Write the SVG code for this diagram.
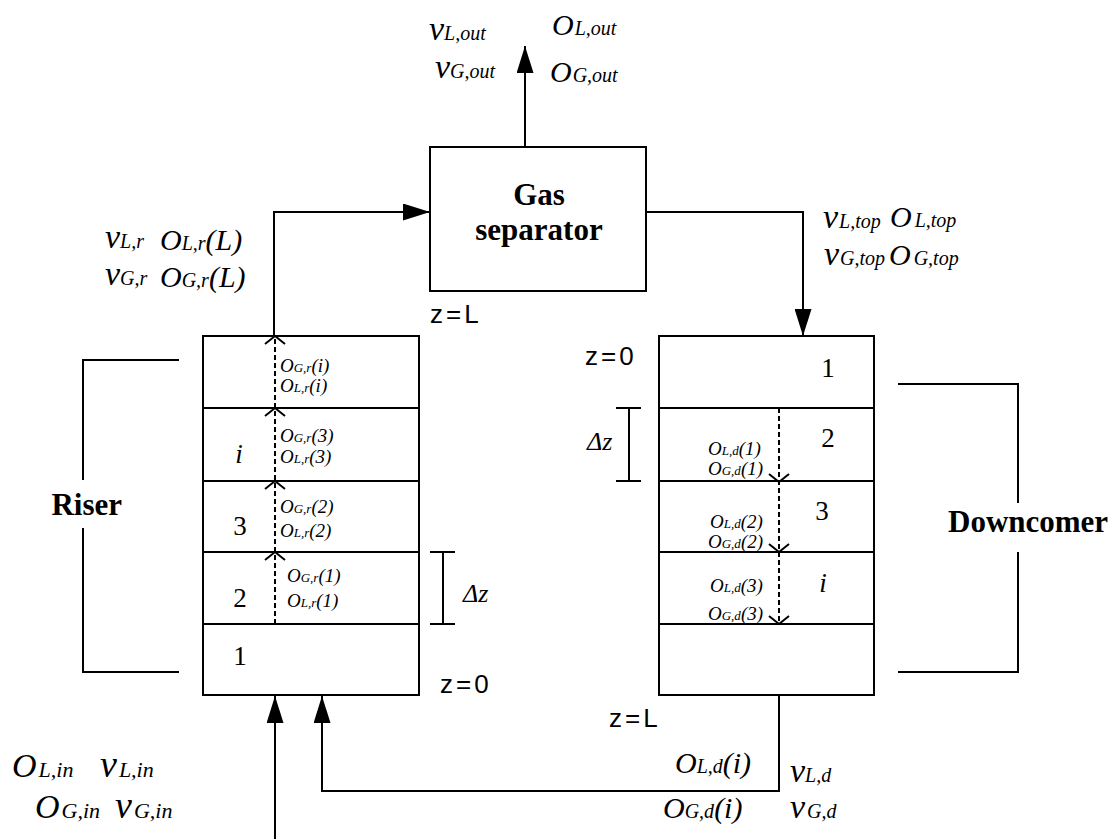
<svg xmlns="http://www.w3.org/2000/svg" width="1120" height="839" viewBox="0 0 1120 839">
<style>
.ln{stroke:#000;stroke-width:2;fill:none}
.box{fill:#fff;stroke:#000;stroke-width:2}
.dash{stroke:#000;stroke-width:2;stroke-dasharray:5 3;fill:none}
.chev{stroke:#000;stroke-width:2;fill:none}
.m{font-family:"Liberation Serif",serif;font-style:italic;fill:#000}
.A{font-size:34px}.As{font-size:22px}.Av{font-size:38px}
.B{font-size:30px}.Bs{font-size:20px}.Bv{font-size:34px}
.C{font-size:19px}.Cs{font-size:13px}
.b{font-family:"Liberation Serif",serif;font-weight:bold;font-size:31px}
.n{font-family:"Liberation Serif",serif;font-size:27px}
.ni{font-family:"Liberation Serif",serif;font-size:27px;font-style:italic}
.z{font-family:"Liberation Sans",sans-serif;font-size:26px;letter-spacing:3px}
</style>
<defs>
<marker id="ah" markerWidth="27" markerHeight="17" refX="27" refY="8.5" orient="auto" markerUnits="userSpaceOnUse">
<path d="M0,0 L27,8.5 L0,17 z" fill="#000"/>
</marker>
</defs>
<rect width="1120" height="839" fill="#fff"/>

<g id="connectors">
<path class="ln" d="M274,336 V212 H430" marker-end="url(#ah)"/>
<path class="ln" d="M646,212 H803 V336" marker-end="url(#ah)"/>
<path class="ln" d="M525,147 V46" marker-end="url(#ah)"/>
<path class="ln" d="M275,839 V696" marker-end="url(#ah)"/>
<path class="ln" d="M779,696 V791 H322 V696" marker-end="url(#ah)"/>
</g>

<g id="gas-separator">
<rect class="box" x="430" y="147" width="216" height="144"/>
<text class="b" x="539" y="205" text-anchor="middle">Gas</text>
<text class="b" x="539" y="240" text-anchor="middle">separator</text>
</g>

<g id="riser">
<rect class="box" x="203" y="336" width="216" height="359"/>
<path class="ln" d="M203,408 H419 M203,481 H419 M203,552 H419 M203,624 H419"/>
<path class="dash" d="M275,624 V337"/>
<polyline class="chev" points="265,344 275,336 285,344"/>
<polyline class="chev" points="265,416 275,408 285,416"/>
<polyline class="chev" points="265,489 275,481 285,489"/>
<polyline class="chev" points="265,560 275,552 285,560"/>
<text class="n" x="240" y="665" text-anchor="middle">1</text>
<text class="n" x="240" y="607" text-anchor="middle">2</text>
<text class="n" x="240" y="535" text-anchor="middle">3</text>
<text class="ni" x="239" y="463" text-anchor="middle">i</text>
<text class="m C" x="280" y="372">O<tspan class="Cs">G,r</tspan>(i)</text>
<text class="m C" x="280" y="392">O<tspan class="Cs">L,r</tspan>(i)</text>
<text class="m C" x="280" y="442">O<tspan class="Cs">G,r</tspan>(3)</text>
<text class="m C" x="280" y="463">O<tspan class="Cs">L,r</tspan>(3)</text>
<text class="m C" x="280" y="513">O<tspan class="Cs">G,r</tspan>(2)</text>
<text class="m C" x="280" y="537">O<tspan class="Cs">L,r</tspan>(2)</text>
<text class="m C" x="287" y="582">O<tspan class="Cs">G,r</tspan>(1)</text>
<text class="m C" x="287" y="607">O<tspan class="Cs">L,r</tspan>(1)</text>
<path class="ln" d="M430,552 H455 M443,552 V624 M430,624 H455"/>
<text class="m" style="font-size:26px" x="463" y="602">Δz</text>
<path class="ln" d="M179,360 H83 V480 M83,528 V672 H179"/>
<text class="b" x="122" y="515" text-anchor="end">Riser</text>
</g>

<g id="downcomer">
<rect class="box" x="659" y="336" width="215" height="359"/>
<path class="ln" d="M659,408 H874 M659,481 H874 M659,552 H874 M659,624 H874"/>
<path class="dash" d="M779,408 V623"/>
<polyline class="chev" points="769,474 779,482 789,474"/>
<polyline class="chev" points="769,544 779,552 789,544"/>
<polyline class="chev" points="769,616 779,624 789,616"/>
<text class="n" x="828" y="377" text-anchor="middle">1</text>
<text class="n" x="828" y="447" text-anchor="middle">2</text>
<text class="n" x="822" y="520" text-anchor="middle">3</text>
<text class="ni" x="823" y="592" text-anchor="middle">i</text>
<text class="m C" x="708" y="455">O<tspan class="Cs">L,d</tspan>(1)</text>
<text class="m C" x="708" y="475">O<tspan class="Cs">G,d</tspan>(1)</text>
<text class="m C" x="710" y="528">O<tspan class="Cs">L,d</tspan>(2)</text>
<text class="m C" x="708" y="548">O<tspan class="Cs">G,d</tspan>(2)</text>
<text class="m C" x="710" y="592">O<tspan class="Cs">L,d</tspan>(3)</text>
<text class="m C" x="708" y="620">O<tspan class="Cs">G,d</tspan>(3)</text>
<path class="ln" d="M616,408 H641 M629,408 V481 M616,481 H641"/>
<text class="m" style="font-size:26px" x="587" y="450">Δz</text>
<path class="ln" d="M898,384 H1018 V503 M1018,552 V672 H898"/>
<text class="b" x="948" y="532">Downcomer</text>
</g>

<g id="labels">
<text class="m Bv" x="429" y="40">v<tspan class="Bs">L,out</tspan></text>
<text class="m Bv" x="435" y="78">v<tspan class="Bs">G,out</tspan></text>
<text class="m B" x="552" y="35">O<tspan class="Bs" dx="1">L,out</tspan></text>
<text class="m B" x="550" y="82">O<tspan class="Bs" dx="1">G,out</tspan></text>

<text class="m Bv" x="105" y="248">v<tspan class="Bs">L,r</tspan></text>
<text class="m B" x="160" y="250">O<tspan class="Bs">L,r</tspan>(L)</text>
<text class="m Bv" x="105" y="285">v<tspan class="Bs">G,r</tspan></text>
<text class="m B" x="160" y="287">O<tspan class="Bs">G,r</tspan>(L)</text>

<text class="m Bv" x="823" y="228">v<tspan class="Bs" dx="1">L,top</tspan></text>
<text class="m B" x="890" y="227">O<tspan class="Bs" dx="3">L,top</tspan></text>
<text class="m Bv" x="824" y="265">v<tspan class="Bs" dx="1">G,top</tspan></text>
<text class="m B" x="889" y="265">O<tspan class="Bs" dx="3">G,top</tspan></text>

<text class="m A" x="12" y="777">O<tspan class="As" dx="2">L,in</tspan></text>
<text class="m Av" x="100" y="777">v<tspan class="As" dx="2">L,in</tspan></text>
<text class="m A" x="35" y="818">O<tspan class="As" dx="2">G,in</tspan></text>
<text class="m Av" x="115" y="818">v<tspan class="As" dx="2">G,in</tspan></text>

<text class="m B" x="675" y="773">O<tspan class="Bs">L,d</tspan>(i)</text>
<text class="m Bv" x="790" y="782">v<tspan class="Bs">L,d</tspan></text>
<text class="m B" x="663" y="818">O<tspan class="Bs">G,d</tspan>(i)</text>
<text class="m Bv" x="790" y="818">v<tspan class="Bs" dx="2">G,d</tspan></text>

<text class="z" x="430" y="323">z=L</text>
<text class="z" x="440" y="693">z=0</text>
<text class="z" x="585" y="365">z=0</text>
<text class="z" x="609" y="727">z=L</text>
</g>
</svg>
